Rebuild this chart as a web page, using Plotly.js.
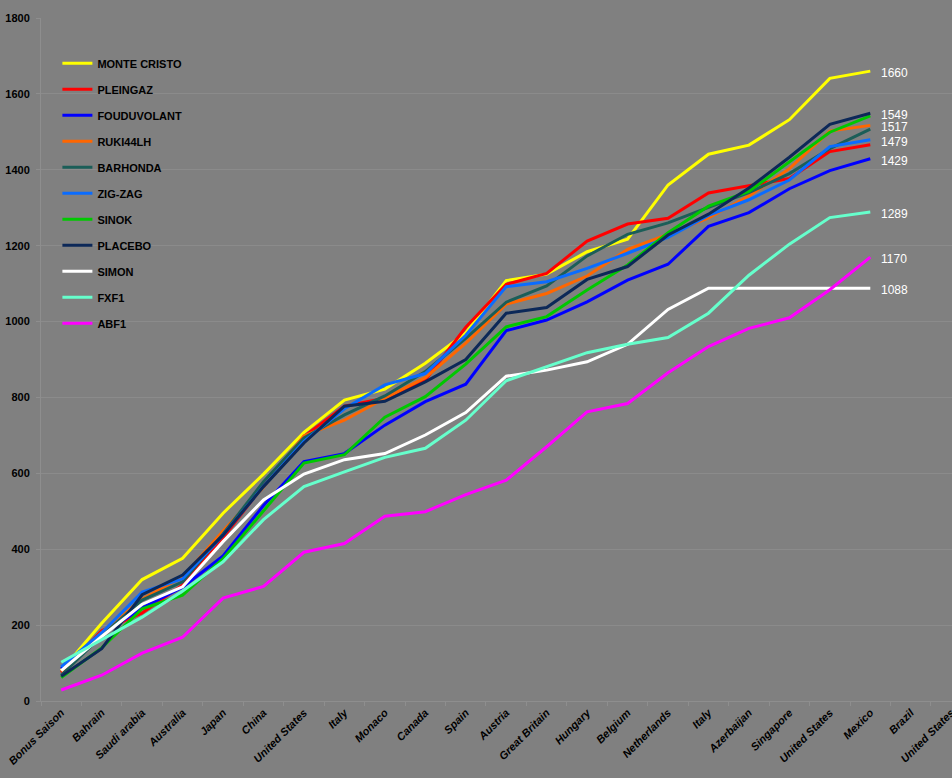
<!DOCTYPE html>
<html>
<head>
<meta charset="utf-8">
<script src="https://cdn.plot.ly/plotly-3.0.1.min.js"></script>
<style>
  html, body { margin: 0; padding: 0; background: #808080; }
  #chart { width: 952px; height: 778px; }
</style>
</head>
<body>
<div id="chart"></div>
<script>
const categories = ["Bonus Saison","Bahrain","Saudi arabia","Australia","Japan","China","United States","Italy","Monaco","Canada","Spain","Austria","Great Britain","Hungary","Belgium","Netherlands","Italy","Azerbaijan","Singapore","United States","Mexico","Brazil","United States"];

const monteCristo = [80, 205, 320, 376, 495, 598, 708, 793, 822, 890, 970, 1108, 1125, 1184, 1217, 1360, 1441, 1465, 1532, 1641, 1660];
const pleingaz    = [75, 185, 232, 306, 430, 568, 697, 777, 798, 846, 985, 1098, 1127, 1212, 1257, 1272, 1339, 1359, 1377, 1448, 1466];
const fouduvolant = [85, 175, 245, 300, 382, 515, 631, 652, 727, 789, 835, 976, 1004, 1052, 1109, 1151, 1251, 1287, 1350, 1398, 1429];
const ruki44lh    = [78, 180, 268, 327, 448, 563, 699, 740, 798, 852, 943, 1046, 1074, 1120, 1190, 1230, 1273, 1331, 1403, 1502, 1517];
const barhonda    = [68, 172, 266, 314, 440, 578, 693, 754, 804, 868, 956, 1051, 1094, 1173, 1230, 1260, 1301, 1340, 1390, 1456, 1507];
const zigZag      = [90, 180, 287, 322, 437, 566, 684, 770, 833, 863, 964, 1092, 1105, 1140, 1180, 1222, 1280, 1321, 1373, 1461, 1479];
const sinok       = [62, 140, 243, 279, 375, 500, 627, 649, 748, 802, 888, 986, 1013, 1083, 1149, 1234, 1304, 1343, 1421, 1499, 1542];
const placebo     = [65, 138, 280, 332, 437, 565, 680, 777, 790, 841, 900, 1022, 1037, 1111, 1145, 1228, 1283, 1352, 1433, 1520, 1549];
const simon       = [80, 170, 255, 301, 420, 530, 598, 636, 652, 701, 760, 856, 872, 894, 940, 1032, 1088, 1088, 1088, 1088, 1088];
const fxf1        = [102, 161, 221, 290, 367, 478, 565, 604, 642, 666, 740, 844, 881, 918, 940, 958, 1022, 1122, 1204, 1274, 1289];
const abf1        = [29, 68, 126, 168, 271, 302, 392, 415, 487, 499, 544, 582, 670, 762, 784, 865, 934, 982, 1010, 1084, 1170];

const seriesNames = ["MONTE CRISTO","PLEINGAZ","FOUDUVOLANT","RUKI44LH","BARHONDA","ZIG-ZAG","SINOK","PLACEBO","SIMON","FXF1","ABF1"];
const seriesValues = [monteCristo, pleingaz, fouduvolant, ruki44lh, barhonda, zigZag, sinok, placebo, simon, fxf1, abf1];
const seriesColors = ["#ffff00","#ff0000","#0000ff","#ff6600","#1b5e58","#0a6cff","#00c800","#0c2858","#ffffff","#66ffcc","#ff00ff"];
const labelledSeries = ["MONTE CRISTO","PLACEBO","RUKI44LH","ZIG-ZAG","FOUDUVOLANT","FXF1","ABF1","SIMON"];

const positions = categories.map((c, i) => i);

const traces = seriesNames.map((name, k) => ({
  type: "scatter",
  mode: "lines",
  name: name,
  legendgroup: name,
  x: seriesValues[k].map((v, i) => positions[i]),
  y: seriesValues[k],
  line: { color: seriesColors[k], width: 3 },
  hoverinfo: "skip"
}));

const annotations = seriesNames
  .map((name, k) => ({ name, vals: seriesValues[k] }))
  .filter(s => labelledSeries.includes(s.name))
  .map(s => ({
    x: positions[s.vals.length - 1],
    y: s.vals[s.vals.length - 1],
    xref: "x", yref: "y",
    text: String(s.vals[s.vals.length - 1]),
    showarrow: false,
    xanchor: "left",
    yanchor: "middle",
    xshift: 10,
    yshift: -2,
    borderpad: 0,
    font: { family: "Liberation Sans, Arial, sans-serif", size: 12, color: "#ffffff" }
  }));

const minorTicks = categories.map((c, i) => i - 0.5).concat([categories.length - 0.5]);

const layout = {
  width: 952,
  height: 778,
  paper_bgcolor: "#808080",
  plot_bgcolor: "#808080",
  margin: { l: 41, r: 0, t: 18, b: 77 },
  showlegend: true,
  legend: {
    x: 0.018, xanchor: "left",
    y: 0.955, yanchor: "top",
    bgcolor: "rgba(0,0,0,0)",
    font: { family: "Liberation Sans, Arial, sans-serif", size: 11, color: "#000000", weight: "bold" },
    tracegroupgap: 7,
    traceorder: "grouped"
  },
  xaxis: {
    range: [-0.5, 22.02],
    tickmode: "array",
    tickvals: positions,
    ticktext: categories,
    tickangle: -45,
    ticks: "",
    ticklabeloverflow: "allow",
    showgrid: false,
    zeroline: false,
    showline: true,
    linecolor: "#8e8e8e",
    linewidth: 1,
    tickfont: { family: "Liberation Sans, Arial, sans-serif", size: 11, color: "#000000", style: "italic", weight: "bold" },
    minor: { tickmode: "array", tickvals: minorTicks, ticks: "outside", ticklen: 4, tickcolor: "#8e8e8e", showgrid: false }
  },
  yaxis: {
    range: [0, 1800],
    dtick: 200,
    tick0: 0,
    showgrid: true,
    gridcolor: "#8b8b8b",
    gridwidth: 1,
    zeroline: false,
    showline: true,
    linecolor: "#8e8e8e",
    ticks: "outside",
    ticklen: 4,
    tickcolor: "#8e8e8e",
    ticklabelstandoff: 4,
    tickfont: { family: "Liberation Sans, Arial, sans-serif", size: 11, color: "#000000", weight: "bold" }
  },
  annotations: annotations
};

Plotly.newPlot("chart", traces, layout, { displayModeBar: false, staticPlot: true });
</script>
</body>
</html>
